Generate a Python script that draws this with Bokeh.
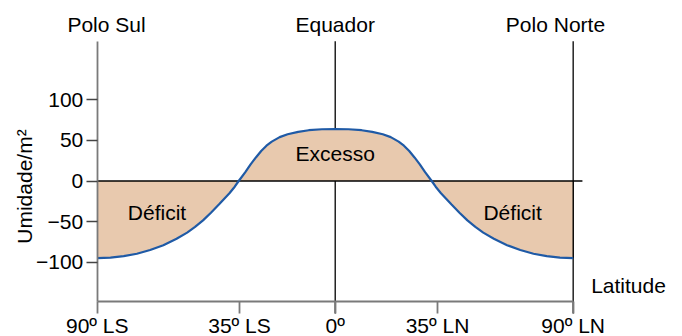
from bokeh.plotting import figure
from bokeh.models import Range1d, LinearAxis, FixedTicker, ColumnDataSource
from bokeh.core.properties import value
from bokeh.embed import file_html
from bokeh.resources import INLINE
import math

# ---- data ----
lat = [-90, -85, -80, -75, -70, -65, -60, -56, -53, -50, -47, -44, -40, -38, -36.5, -34, -32, -30, -28, -26,
       -24, -21, -18, -14, -10, -5, 0, 5, 10, 14, 18, 21, 24, 26, 28, 30, 32, 34, 36.5, 38, 40, 44, 47, 50,
       53, 56, 60, 65, 70, 75, 80, 85, 90]
humidity = [-95, -94.3, -92.5, -89.5, -85, -79, -71, -63.5, -56.5, -48.5, -39, -29, -15, -7, 0, 11, 20.5,
            29, 37, 43.5, 48.5, 54, 57.5, 60.5, 62.5, 63.7, 64, 63.7, 62.5, 60.5, 57.5, 54, 48.5, 43.5, 37,
            29, 20.5, 11, 0, -7, -15, -29, -39, -48.5, -56.5, -63.5, -71, -79, -85, -89.5, -92.5, -94.3, -95]

y_ticks = [-100, -50, 0, 50, 100]
y_tick_labels = ["\u2212100", "\u221250", "0", "50", "100"]
x_tick_pos = [-90, -36.2, 0, 38.7, 90]
x_tick_labels = ["90º LS", "35º LS", "0º", "35º LN", "90º LN"]

top_labels = ["Polo Sul", "Equador", "Polo Norte"]
top_label_x = [-86.5, 0, 83.3]
region_labels = ["Déficit", "Excesso", "Déficit"]
region_label_x = [-67.4, 0, 67.1]
region_label_y = [-38.5, 34.0, -38.5]

FONT = value("Liberation Sans")
FS = value("21px")

p = figure(width=682, height=336, output_backend="svg", toolbar_location=None,
           x_range=Range1d(-126.59, 131.35), y_range=Range1d(-191.38, 222.15),
           x_axis_type=None, y_axis_type=None,
           min_border=0, min_border_left=0, min_border_right=0,
           min_border_top=0, min_border_bottom=0)
p.outline_line_color = None
p.xgrid.visible = False
p.ygrid.visible = False
p.background_fill_color = "white"
p.border_fill_color = "white"

AX_BOTTOM = -148.3
AX_TOP = 172
LINE_BOTTOM = -163

# vertical reference lines (equator, north pole)
p.segment(x0=[0, 90], y0=[AX_TOP, AX_TOP], x1=[0, 90], y1=[LINE_BOTTOM, LINE_BOTTOM],
          line_color="black", line_width=1.3)

src = ColumnDataSource(dict(x=lat, y=humidity, z=[0] * len(lat)))
p.varea(x="x", y1="z", y2="y", source=src, fill_color="#E8C9AE")
# zero line
p.segment(x0=[-90], y0=[0], x1=[93.5], y1=[0], line_color="black", line_width=1.3)
p.segment(x0=[90], y0=[0], x1=[90], y1=[-95], line_color="black", line_width=1.3)
p.line(x="x", y="y", source=src, line_color="#1F5AA6", line_width=2.2)

# axes
yax = LinearAxis(fixed_location=-90, bounds=(AX_BOTTOM, AX_TOP),
                 ticker=FixedTicker(ticks=y_ticks),
                 major_label_overrides=dict(zip(y_ticks, y_tick_labels)))
yax.axis_line_color = "#7a7a7a"
yax.axis_line_width = 1.8
yax.major_tick_line_color = "#444444"
yax.major_tick_line_width = 1.3
yax.major_tick_out = 11
yax.major_tick_in = 0
yax.minor_tick_out = 0
yax.minor_tick_in = 0
yax.major_label_standoff = 3
yax.major_label_text_font = "Liberation Sans"
yax.major_label_text_font_size = "21px"
yax.major_label_text_color = "black"
p.add_layout(yax, "left")

xax = LinearAxis(fixed_location=AX_BOTTOM, bounds=(-90, 90),
                 ticker=FixedTicker(ticks=x_tick_pos),
                 major_label_overrides=dict(zip(x_tick_pos, x_tick_labels)))
xax.axis_line_color = "#7a7a7a"
xax.axis_line_width = 1.8
xax.major_tick_line_color = "#7a7a7a"
xax.major_tick_line_width = 1.8
xax.major_tick_out = 12
xax.major_tick_in = 0
xax.minor_tick_out = 0
xax.minor_tick_in = 0
xax.major_label_standoff = 1
xax.major_label_text_font = "Liberation Sans"
xax.major_label_text_font_size = "21px"
xax.major_label_text_color = "black"
p.add_layout(xax, "below")

# texts
p.text(x=top_label_x, y=[192.6] * 3, text=top_labels, text_font=FONT, text_font_size=FS,
       text_align="center", text_baseline="alphabetic", text_color="black")
p.text(x=region_label_x, y=region_label_y, text=region_labels, text_font=FONT, text_font_size=FS,
       text_align="center", text_baseline="alphabetic", text_color="black")
p.text(x=[96.8], y=[-129.0], text=["Latitude"], text_font=FONT, text_font_size=FS,
       text_align="left", text_baseline="alphabetic", text_color="black")
p.text(x=[-117.5], y=[-6.8], text=["Umidade/m²"], text_font=FONT, text_font_size=FS,
       text_align="center", text_baseline="alphabetic", text_color="black", angle=math.pi / 2)

open("out.html", "w").write(file_html(p, INLINE))
